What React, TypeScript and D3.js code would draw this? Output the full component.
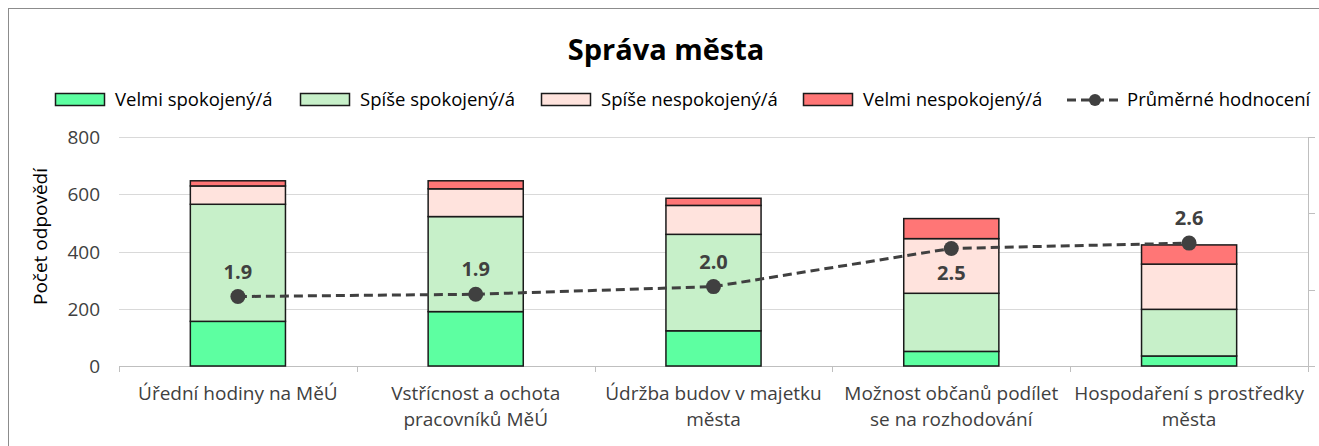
import { useEffect, useRef } from 'react'
import * as d3 from 'd3'

// categories (line-broken as in the original chart)
const categories = [
  ['Úřední hodiny na MěÚ'],
  ['Vstřícnost a ochota', 'pracovníků MěÚ'],
  ['Údržba budov v majetku', 'města'],
  ['Možnost občanů podílet', 'se na rozhodování'],
  ['Hospodaření s prostředky', 'města'],
]

const velmiSpokojeny = [156, 190, 123, 51, 35]
const spiseSpokojeny = [409, 332, 337, 203, 163]
const spiseNespokojeny = [64, 97, 101, 191, 158]
const velmiNespokojeny = [18, 28, 25, 70, 67]
const prumerneHodnoceni = [1.91, 1.94, 2.04, 2.54, 2.61]
// label placement of the average value (Excel style: above / below the point)
const labelBelow = [false, false, false, true, false]

const yTicks = [0, 200, 400, 600, 800]
const y2Ticks = [1, 2, 3, 4]

const seriesNames = ['Velmi spokojený/á', 'Spíše spokojený/á', 'Spíše nespokojený/á', 'Velmi nespokojený/á']
const seriesColors = ['#5dffa1', '#c7f0c9', '#ffe3dd', '#ff7676']
const lineName = 'Průměrné hodnocení'

const FONT = '"Open Sans", Lato, sans-serif'
const TEXT = '#404040'

export default function App() {
  const svgRef = useRef<SVGSVGElement>(null)
  const width = 1319
  const height = 446

  useEffect(() => {
    if (!svgRef.current) return
    const svg = d3.select(svgRef.current)
    svg.selectAll('*').remove()

    const plot = { left: 119, right: 1308, top: 137, bottom: 366 }

    // outer frame
    svg.append('rect')
      .attr('x', 8.5)
      .attr('y', 8.5)
      .attr('width', width)
      .attr('height', height)
      .attr('fill', 'white')
      .attr('stroke', '#8c8c8c')
      .attr('stroke-width', 1)

    // title
    svg.append('text')
      .attr('x', 666)
      .attr('y', 60)
      .attr('text-anchor', 'middle')
      .style('font-family', FONT)
      .style('font-size', '29px')
      .style('font-weight', 'bold')
      .attr('fill', '#000')
      .text('Správa města')

    const x = d3.scaleBand<number>()
      .domain(d3.range(categories.length))
      .range([plot.left, plot.right])
      .paddingInner(0.6)
      .paddingOuter(0.3)

    const y = d3.scaleLinear().domain([0, 800]).range([plot.bottom, plot.top])
    const y2 = d3.scaleLinear().domain([1, 4]).range([plot.bottom, plot.top])

    const bandStep = (plot.right - plot.left) / categories.length

    // gridlines
    svg.append('g')
      .selectAll('line')
      .data(yTicks.slice(1))
      .enter().append('line')
      .attr('x1', plot.left)
      .attr('x2', plot.right)
      .attr('y1', d => Math.round(y(d)) + 0.5)
      .attr('y2', d => Math.round(y(d)) + 0.5)
      .attr('stroke', '#d9d9d9')
      .attr('stroke-width', 1)

    // left tick labels
    svg.append('g')
      .selectAll('text')
      .data(yTicks)
      .enter().append('text')
      .attr('x', 100)
      .attr('y', d => y(d) + 7)
      .attr('text-anchor', 'end')
      .style('font-family', FONT)
      .style('font-size', '19px')
      .attr('fill', TEXT)
      .text(d => d)

    // y axis title
    svg.append('text')
      .attr('transform', `translate(47, ${(plot.top + plot.bottom) / 2 - 15}) rotate(-90)`)
      .attr('text-anchor', 'middle')
      .style('font-family', FONT)
      .style('font-size', '19px')
      .attr('fill', '#000')
      .text('Počet odpovědí')

    // secondary axis (no labels)
    const right = svg.append('g')
    right.append('line')
      .attr('x1', plot.right + 0.5)
      .attr('x2', plot.right + 0.5)
      .attr('y1', plot.top)
      .attr('y2', plot.bottom + 6)
      .attr('stroke', '#bfbfbf')
    right.selectAll('.t2')
      .data(y2Ticks)
      .enter().append('line')
      .attr('class', 't2')
      .attr('x1', plot.right)
      .attr('x2', plot.right + 7)
      .attr('y1', d => Math.round(y2(d)) + 0.5)
      .attr('y2', d => Math.round(y2(d)) + 0.5)
      .attr('stroke', '#bfbfbf')

    // bottom axis + category ticks
    svg.append('line')
      .attr('x1', plot.left)
      .attr('x2', plot.right)
      .attr('y1', plot.bottom + 0.5)
      .attr('y2', plot.bottom + 0.5)
      .attr('stroke', '#bfbfbf')
    svg.append('g')
      .selectAll('line')
      .data(d3.range(categories.length + 1))
      .enter().append('line')
      .attr('x1', i => Math.round(plot.left + i * bandStep) + 0.5)
      .attr('x2', i => Math.round(plot.left + i * bandStep) + 0.5)
      .attr('y1', plot.bottom)
      .attr('y2', plot.bottom + 6)
      .attr('stroke', '#bfbfbf')

    // category labels
    categories.forEach((lines, i) => {
      const cx = (x(i) ?? 0) + x.bandwidth() / 2
      lines.forEach((ln, j) => {
        svg.append('text')
          .attr('x', cx)
          .attr('y', 400 + j * 26)
          .attr('text-anchor', 'middle')
          .style('font-family', FONT)
          .style('font-size', '19px')
          .attr('fill', TEXT)
          .text(ln)
      })
    })

    // stacked bars
    const rows = categories.map((_, i) => ({
      i,
      v0: velmiSpokojeny[i],
      v1: spiseSpokojeny[i],
      v2: spiseNespokojeny[i],
      v3: velmiNespokojeny[i],
    }))
    const stack = d3.stack<any>().keys(['v0', 'v1', 'v2', 'v3'])(rows)

    stack.forEach((layer, k) => {
      svg.append('g')
        .selectAll('rect')
        .data(layer)
        .enter().append('rect')
        .attr('x', d => x(d.data.i) ?? 0)
        .attr('width', x.bandwidth())
        .attr('y', d => y(d[1]))
        .attr('height', d => y(d[0]) - y(d[1]))
        .attr('fill', seriesColors[k])
        .attr('stroke', '#1a1a1a')
        .attr('stroke-width', 1.5)
    })

    // average line
    const pts = prumerneHodnoceni.map((v, i) => ({ v, i }))
    const line = d3.line<{ v: number; i: number }>()
      .x(d => (x(d.i) ?? 0) + x.bandwidth() / 2)
      .y(d => y2(d.v))

    svg.append('path')
      .datum(pts)
      .attr('fill', 'none')
      .attr('stroke', '#404040')
      .attr('stroke-width', 3)
      .attr('stroke-dasharray', '9,5')
      .attr('d', line)

    svg.append('g')
      .selectAll('circle')
      .data(pts)
      .enter().append('circle')
      .attr('cx', d => (x(d.i) ?? 0) + x.bandwidth() / 2)
      .attr('cy', d => y2(d.v))
      .attr('r', 7.5)
      .attr('fill', '#404040')

    svg.append('g')
      .selectAll('text')
      .data(pts)
      .enter().append('text')
      .attr('x', d => (x(d.i) ?? 0) + x.bandwidth() / 2)
      .attr('y', d => y2(d.v) + (labelBelow[d.i] ? 32 : -18))
      .attr('text-anchor', 'middle')
      .style('font-family', FONT)
      .style('font-size', '20px')
      .style('font-weight', 'bold')
      .attr('fill', '#404040')
      .text(d => d3.format('.1f')(d.v))

    // legend
    const legendSwatchX = [55, 300, 541, 803]
    const legend = svg.append('g')
    seriesNames.forEach((name, k) => {
      legend.append('rect')
        .attr('x', legendSwatchX[k] + 0.5)
        .attr('y', 93.5)
        .attr('width', 49)
        .attr('height', 12)
        .attr('fill', seriesColors[k])
        .attr('stroke', '#1a1a1a')
        .attr('stroke-width', 1.5)
      legend.append('text')
        .attr('x', legendSwatchX[k] + 60)
        .attr('y', 106)
        .style('font-family', FONT)
        .style('font-size', '18.5px')
        .attr('fill', '#000')
        .text(name)
    })
    legend.append('line')
      .attr('x1', 1067)
      .attr('x2', 1122)
      .attr('y1', 100)
      .attr('y2', 100)
      .attr('stroke', '#404040')
      .attr('stroke-width', 3)
      .attr('stroke-dasharray', '9,5')
    legend.append('circle')
      .attr('cx', 1095)
      .attr('cy', 100)
      .attr('r', 6)
      .attr('fill', '#404040')
    legend.append('text')
      .attr('x', 1127)
      .attr('y', 106)
      .style('font-family', FONT)
      .style('font-size', '18.5px')
      .attr('fill', '#000')
      .text(lineName)
  }, [])

  return (
    <svg
      ref={svgRef}
      width={width}
      height={height}
      style={{ position: 'absolute', left: 0, top: 0, display: 'block' }}
    />
  )
}
